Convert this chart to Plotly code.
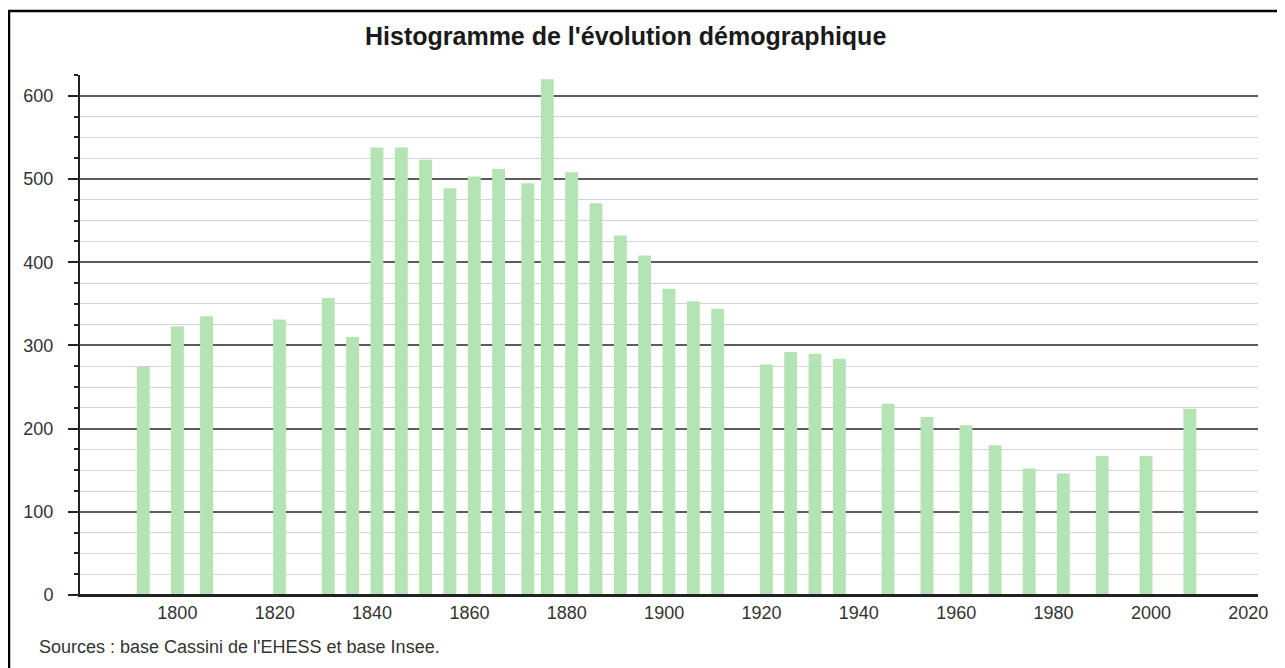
import plotly.graph_objects as go

years = [1793, 1800, 1806, 1821, 1831, 1836, 1841, 1846, 1851, 1856, 1861, 1866,
         1872, 1876, 1881, 1886, 1891, 1896, 1901, 1906, 1911, 1921, 1926, 1931,
         1936, 1946, 1954, 1962, 1968, 1975, 1982, 1990, 1999, 2008]
population = [274, 323, 335, 331, 357, 310, 538, 538, 523, 489, 503, 512,
              495, 620, 508, 471, 432, 408, 368, 353, 344, 277, 292, 290,
              284, 230, 214, 204, 180, 152, 146, 167, 167, 224]
x_ticks = [1800, 1820, 1840, 1860, 1880, 1900, 1920, 1940, 1960, 1980, 2000, 2020]
y_ticks = [0, 100, 200, 300, 400, 500, 600]
title_text = "Histogramme de l'évolution démographique"
source_text = "Sources : base Cassini de l'EHESS et base Insee."

# the page body adds an 8px offset; the figure is sized to fill the rest of the window
OFF = 8
W, H = 1285 - OFF, 668 - OFF
L, R, T, B = 80 - OFF, 27, 75 - OFF, 73
pw, ph = W - L - R, H - T - B
y_bottom = T + ph  # pixel row of the zero line (figure coords)

fig = go.Figure()
fig.add_trace(go.Bar(
    x=years, y=population, width=2.65,
    marker=dict(color="#b4e4b4", line=dict(width=0)),
    hoverinfo="x+y",
))

fig.update_layout(
    width=W, height=H,
    margin=dict(l=L, r=R, t=T, b=B),
    paper_bgcolor="white", plot_bgcolor="white",
    showlegend=False,
    font=dict(family="Liberation Sans, Arial, sans-serif", size=18, color="#333333"),
    title=dict(
        text=title_text,
        x=(365 - OFF) / W, xanchor="left", xref="container",
        y=1 - (36 - OFF) / H, yanchor="middle", yref="container",
        font=dict(family="Liberation Sans, Arial, sans-serif", size=25, color="#1a1a1a", weight="bold"),
    ),
    xaxis=dict(
        range=[1780, 2022],
        tickmode="array", tickvals=x_ticks, ticktext=[str(v) for v in x_ticks],
        ticks="", showgrid=False, zeroline=False,
        showline=True, linecolor="#222222", linewidth=2,
        ticklabelstandoff=0,
        tickfont=dict(size=18, color="#333333"),
    ),
    yaxis=dict(
        range=[0, 625],
        tickmode="array", tickvals=y_ticks, ticktext=[str(v) for v in y_ticks],
        ticks="outside", ticklen=10, tickwidth=2, tickcolor="#222222",
        showgrid=True, gridcolor="#5c5c5c", gridwidth=1.5,
        zeroline=False,
        showline=True, linecolor="#222222", linewidth=2,
        ticklabelstandoff=11,
        tickfont=dict(size=18, color="#333333"),
        minor=dict(dtick=25, tick0=0, ticks="outside", ticklen=4, tickwidth=2,
                   tickcolor="#222222", showgrid=True, gridcolor="#d4d4d4", gridwidth=1.3),
    ),
)

# zero baseline extended to the left like the tick at 0
fig.add_shape(type="line", xref="paper", yref="y",
              x0=-10 / pw, x1=1.0, y0=0, y1=0,
              line=dict(color="#222222", width=2), layer="above")

# frame around the figure
fig.add_shape(type="rect", xref="paper", yref="paper",
              x0=(9 - OFF - L) / pw, x1=(W + 10 - L) / pw,
              y0=(y_bottom - (H + 20)) / ph, y1=(y_bottom - (11 - OFF)) / ph,
              line=dict(color="black", width=2.5), fillcolor="rgba(0,0,0,0)", layer="above")

fig.add_annotation(
    text=source_text, xref="paper", yref="paper",
    x=(37 - OFF - L) / pw, xanchor="left",
    y=(y_bottom - (647 - OFF)) / ph, yanchor="middle",
    showarrow=False,
    font=dict(family="Liberation Sans, Arial, sans-serif", size=18, color="#333333"),
)

fig.write_html("out.html")
